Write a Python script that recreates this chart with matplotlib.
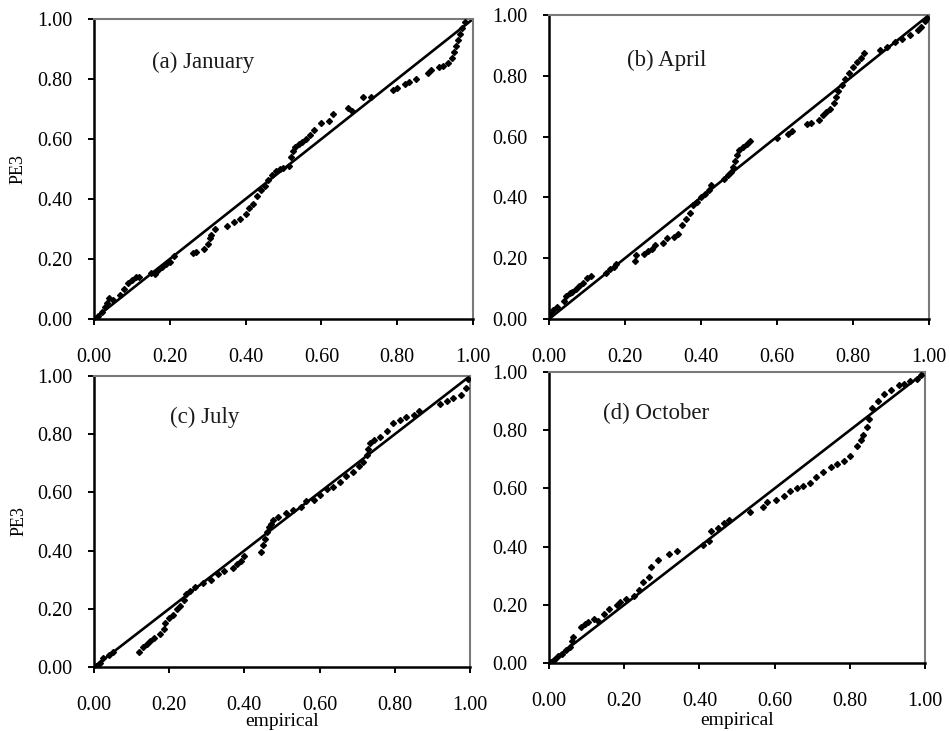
import matplotlib
matplotlib.use("Agg")
import matplotlib.pyplot as plt
import numpy as np

plt.rcParams['font.family'] = ['Liberation Serif', 'DejaVu Serif']

# ---------------- data ----------------
jan_x = [0.01,0.02,0.03,0.035,0.04,0.05,0.07,0.08,0.09,0.10,0.11,0.12,0.15,0.16,0.17,0.18,0.19,0.20,0.21,
         0.26,0.27,0.29,0.30,0.305,0.31,0.32,0.35,0.37,0.385,0.40,0.41,0.42,0.43,0.44,0.45,0.46,0.47,0.48,0.49,0.50,
         0.515,0.52,0.525,0.53,0.54,0.55,0.56,0.57,0.58,0.60,0.62,0.63,0.67,0.68,0.71,0.73,0.79,0.80,0.82,0.83,0.85,
         0.88,0.89,0.91,0.92,0.935,0.945,0.95,0.955,0.96,0.965,0.97,0.98]
jan_y = [0.01,0.025,0.04,0.055,0.07,0.065,0.08,0.10,0.12,0.13,0.14,0.14,0.155,0.15,0.165,0.175,0.185,0.19,0.21,
         0.22,0.225,0.235,0.25,0.27,0.28,0.30,0.31,0.325,0.335,0.35,0.37,0.385,0.41,0.43,0.445,0.465,0.48,0.495,0.50,0.505,
         0.51,0.54,0.56,0.575,0.585,0.59,0.60,0.615,0.63,0.655,0.66,0.685,0.705,0.695,0.74,0.74,0.765,0.77,0.785,0.79,0.80,
         0.82,0.83,0.84,0.845,0.855,0.87,0.89,0.91,0.93,0.95,0.97,0.99]

apr_x = [0.005,0.01,0.02,0.04,0.045,0.055,0.06,0.07,0.08,0.09,0.10,0.11,0.15,0.16,0.17,0.175,
         0.225,0.23,0.25,0.26,0.27,0.28,0.30,0.31,0.33,0.34,0.35,0.36,0.37,0.38,0.39,0.40,0.41,0.42,0.425,
         0.46,0.47,0.48,0.485,0.49,0.495,0.50,0.51,0.52,0.53,0.60,0.63,0.64,0.68,0.69,0.71,0.72,0.73,0.74,
         0.75,0.755,0.76,0.77,0.78,0.79,0.80,0.81,0.82,0.83,0.87,0.89,0.91,0.93,0.95,0.97,0.98,0.99,0.995]
apr_y = [0.015,0.03,0.04,0.06,0.075,0.085,0.09,0.10,0.11,0.12,0.135,0.14,0.15,0.165,0.17,0.18,
         0.19,0.21,0.215,0.225,0.23,0.245,0.25,0.265,0.27,0.28,0.31,0.33,0.35,0.375,0.385,0.40,0.41,0.425,0.44,
         0.46,0.475,0.485,0.50,0.52,0.54,0.555,0.565,0.575,0.585,0.595,0.61,0.62,0.64,0.645,0.655,0.67,0.68,0.69,
         0.71,0.73,0.75,0.77,0.79,0.81,0.83,0.845,0.86,0.875,0.885,0.895,0.91,0.92,0.935,0.95,0.96,0.98,0.99]

jul_x = [0.005,0.015,0.025,0.04,0.05,0.12,0.13,0.14,0.15,0.16,0.175,0.185,0.19,0.20,0.21,0.22,0.23,0.24,0.245,0.255,
         0.27,0.29,0.31,0.33,0.345,0.37,0.38,0.39,0.40,0.445,0.45,0.455,0.46,0.465,0.47,0.475,
         0.49,0.51,0.53,0.55,0.565,0.585,0.60,0.62,0.635,0.655,0.67,0.69,0.705,0.715,0.725,0.73,0.735,0.745,
         0.76,0.78,0.795,0.815,0.83,0.85,0.865,0.92,0.94,0.955,0.975,0.99,0.995]
jul_y = [0.005,0.015,0.03,0.04,0.05,0.05,0.07,0.08,0.09,0.10,0.115,0.13,0.15,0.17,0.18,0.20,0.21,0.23,0.25,0.26,
         0.275,0.29,0.30,0.32,0.33,0.34,0.355,0.365,0.38,0.395,0.42,0.44,0.465,0.48,0.49,0.505,
         0.515,0.53,0.54,0.55,0.57,0.575,0.59,0.61,0.62,0.635,0.655,0.67,0.69,0.705,0.73,0.75,0.77,0.78,
         0.79,0.81,0.84,0.85,0.86,0.865,0.88,0.905,0.915,0.925,0.935,0.96,0.99]

oct_x = [0.005,0.015,0.025,0.035,0.045,0.055,0.06,0.065,0.085,0.095,0.105,0.12,0.13,0.145,0.16,0.18,0.19,0.205,
         0.225,0.24,0.25,0.265,0.27,0.29,0.32,0.34,0.41,0.425,0.43,0.45,0.465,0.48,0.535,0.57,0.58,0.605,
         0.625,0.64,0.66,0.675,0.695,0.71,0.73,0.75,0.765,0.785,0.80,0.82,0.83,0.835,0.845,0.85,0.86,0.875,
         0.89,0.91,0.93,0.945,0.96,0.98,0.99]
oct_y = [0.005,0.015,0.025,0.03,0.045,0.055,0.075,0.09,0.125,0.135,0.14,0.15,0.145,0.17,0.185,0.20,0.21,0.22,
         0.23,0.25,0.28,0.295,0.33,0.355,0.375,0.385,0.405,0.42,0.455,0.465,0.48,0.49,0.52,0.535,0.555,0.56,
         0.575,0.59,0.60,0.61,0.62,0.64,0.655,0.675,0.685,0.695,0.71,0.745,0.765,0.785,0.81,0.84,0.875,0.90,
         0.925,0.94,0.955,0.96,0.97,0.975,0.99]

panels = [
    ("(a) January", jan_x, jan_y),
    ("(b) April", apr_x, apr_y),
    ("(c) July", jul_x, jul_y),
    ("(d) October", oct_x, oct_y),
]
ticks = [0.0, 0.2, 0.4, 0.6, 0.8, 1.0]
tick_labels = ["0.00", "0.20", "0.40", "0.60", "0.80", "1.00"]

# ---------------- layout ----------------
fig = plt.figure(figsize=(9.5, 7.31), dpi=100)
rects = [
    [0.0989, 0.5636, 0.3990, 0.4104],
    [0.5779, 0.5636, 0.4000, 0.4159],
    [0.0989, 0.0876, 0.3958, 0.3980],
    [0.5779, 0.0930, 0.3958, 0.3980],
]
title_pos = [(0.153, 0.857), (0.205, 0.852), (0.202, 0.859), (0.144, 0.859)]
xlabel_y = [None, None, -0.189, -0.196]

for i, (title, xs, ys) in enumerate(panels):
    ax = fig.add_axes(rects[i])
    ax.plot([0, 1], [0, 1], color='black', lw=1.9, zorder=2)
    ax.plot(xs, ys, linestyle='none', marker='D', ms=3.0, color='black', zorder=3)
    ax.set_xlim(0, 1)
    ax.set_ylim(0, 1)
    ax.set_xticks(ticks)
    ax.set_yticks(ticks)
    ax.set_xticklabels(tick_labels, fontsize=14.5)
    ax.set_yticklabels(tick_labels, fontsize=14.5)
    ax.tick_params(axis='y', direction='out', length=4.5, width=1.4, pad=11, colors='black')
    ax.tick_params(axis='x', direction='out', length=4, width=1.4, pad=17, colors='black')
    for s in ['left', 'bottom']:
        ax.spines[s].set_linewidth(1.8)
        ax.spines[s].set_color('black')
    for s in ['top', 'right']:
        ax.spines[s].set_linewidth(1.5)
        ax.spines[s].set_color('#7a7a7a')
    ax.text(title_pos[i][0], title_pos[i][1], title, transform=ax.transAxes,
            fontsize=16.5, ha='left', va='center', color='#1a1a1a')
    if i in (0, 2):
        ax.text(-0.2, 0.5, "PE3", transform=ax.transAxes, rotation=90,
                fontsize=13, ha='center', va='center')
    if xlabel_y[i] is not None:
        ax.text(0.5, xlabel_y[i], "empirical", transform=ax.transAxes,
                fontsize=14, ha='center', va='center')

fig.savefig("out.png", dpi=100)
